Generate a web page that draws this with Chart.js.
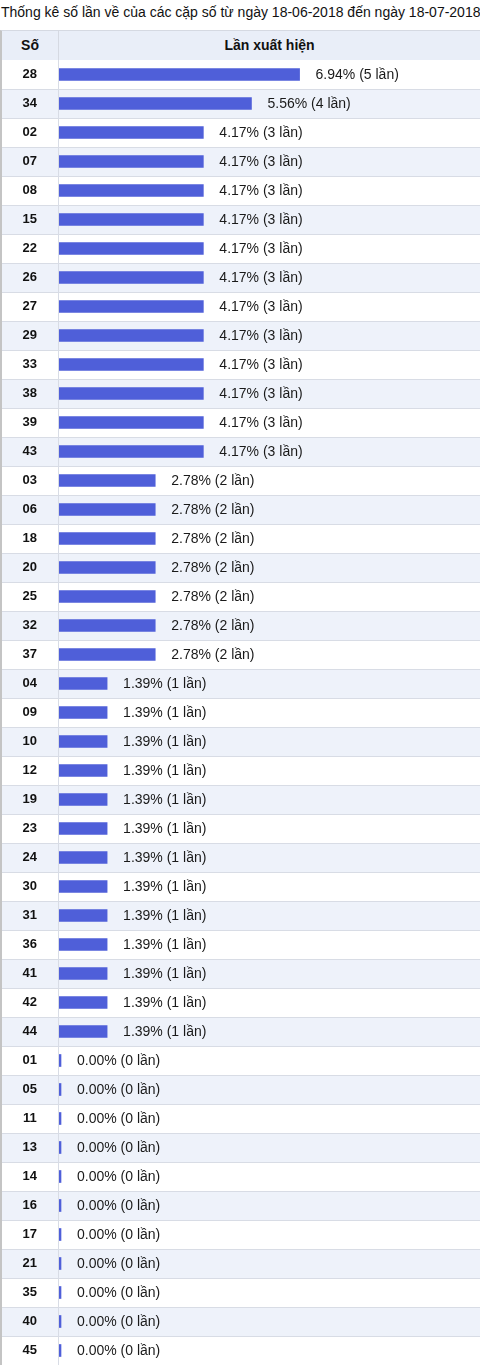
<!DOCTYPE html>
<html>
<head>
<meta charset="utf-8">
<script src="https://cdn.jsdelivr.net/npm/chart.js@4"></script>
<style>
    body { margin: 0; background: #fff; font-family: "Liberation Sans", Arial, sans-serif; }
    #wrap { width: 480px; }
    .title { height: 30px; line-height: 24px; font-size: 14px; color: #111; padding-left: 1px; white-space: nowrap; }
    .head { display: flex; height: 30px; background: #e9eef8; border-top: 1px solid #d5d9e2; border-left: 2px solid #c4c4c4; box-sizing: border-box; }
    .head div { font-weight: bold; font-size: 14px; color: #111; line-height: 29px; text-align: center; }
    .head .c1 { width: 56px; border-right: 1px solid #d5d9e2; }
    .head .c2 { flex: 1; }
    canvas { display: block; }
</style>
</head>
<body>
<div id="wrap">
    <div class="title">Thống kê số lần về của các cặp số từ ngày 18-06-2018 đến ngày 18-07-2018</div>
    <div class="head"><div class="c1">Số</div><div class="c2">Lần xuất hiện</div></div>
    <canvas id="grafico" width="480" height="1305"></canvas>
</div>
<script>
// dados
const soLabels = ['28', '34', '02', '07', '08', '15', '22', '26', '27', '29', '33', '38', '39', '43',
    '03', '06', '18', '20', '25', '32', '37',
    '04', '09', '10', '12', '19', '23', '24', '30', '31', '36', '41', '42', '44',
    '01', '05', '11', '13', '14', '16', '17', '21', '35', '40', '45'];
const soLan = [5, 4, 3, 3, 3, 3, 3, 3, 3, 3, 3, 3, 3, 3,
    2, 2, 2, 2, 2, 2, 2,
    1, 1, 1, 1, 1, 1, 1, 1, 1, 1, 1, 1, 1,
    0, 0, 0, 0, 0, 0, 0, 0, 0, 0, 0];
const tyLe = ['6.94', '5.56', '4.17', '4.17', '4.17', '4.17', '4.17', '4.17', '4.17', '4.17', '4.17', '4.17', '4.17', '4.17',
    '2.78', '2.78', '2.78', '2.78', '2.78', '2.78', '2.78',
    '1.39', '1.39', '1.39', '1.39', '1.39', '1.39', '1.39', '1.39', '1.39', '1.39', '1.39', '1.39', '1.39',
    '0.00', '0.00', '0.00', '0.00', '0.00', '0.00', '0.00', '0.00', '0.00', '0.00', '0.00'];

// fundo listrado e linhas da tabela
const fundoTabela = {
    id: 'fundoTabela',
    beforeDraw(chart) {
        const ctx = chart.ctx;
        const y = chart.scales.y;
        const w = chart.width;
        ctx.save();
        soLabels.forEach((s, i) => {
            const c = y.getPixelForValue(i);
            const top = Math.round(c - 14.5);
            if (i % 2 === 1) {
                ctx.fillStyle = '#eef2fa';
                ctx.fillRect(0, top, w, 29);
            }
            ctx.fillStyle = '#d8dce5';
            if (i > 0) ctx.fillRect(0, top, w, 1);
        });
        ctx.fillStyle = '#d8dce5';
        ctx.fillRect(58, 0, 1, chart.height);
        ctx.fillStyle = '#c4c4c4';
        ctx.fillRect(0, 0, 2, chart.height);
        ctx.restore();
    }
};

// texto depois da barra
const rotulos = {
    id: 'rotulos',
    afterDatasetsDraw(chart) {
        const ctx = chart.ctx;
        const meta = chart.getDatasetMeta(0);
        ctx.save();
        ctx.font = '14px "Liberation Sans", Arial, sans-serif';
        ctx.fillStyle = '#1a1a1a';
        ctx.textBaseline = 'middle';
        meta.data.forEach((bar, i) => {
            const fim = Math.max(bar.x, bar.base + 2);
            ctx.fillText(`${tyLe[i]}% (${soLan[i]} lần)`, fim + 16, bar.y + 1);
        });
        ctx.restore();
    }
};

new Chart(document.getElementById('grafico'), {
    type: 'bar',
    data: {
        labels: soLabels,
        datasets: [{
            data: soLan,
            backgroundColor: '#4f5fd9',
            borderWidth: 0,
            barThickness: 12,
            minBarLength: 2
        }]
    },
    options: {
        indexAxis: 'y',
        responsive: false,
        animation: false,
        layout: { padding: 0 },
        plugins: { legend: { display: false }, tooltip: { enabled: false } },
        scales: {
            x: {
                display: false,
                min: 0,
                max: 8.75
            },
            y: {
                grid: { display: false },
                border: { display: false },
                afterFit: (scale) => {
                    scale.width = 59;
                    scale.paddingTop = 0;
                    scale.paddingBottom = 0;
                },
                ticks: {
                    crossAlign: 'center',
                    padding: 14,
                    color: '#111',
                    font: { family: '"Liberation Sans", Arial, sans-serif', size: 13, weight: 'bold' }
                }
            }
        }
    },
    plugins: [fundoTabela, rotulos]
});
</script>
</body>
</html>
